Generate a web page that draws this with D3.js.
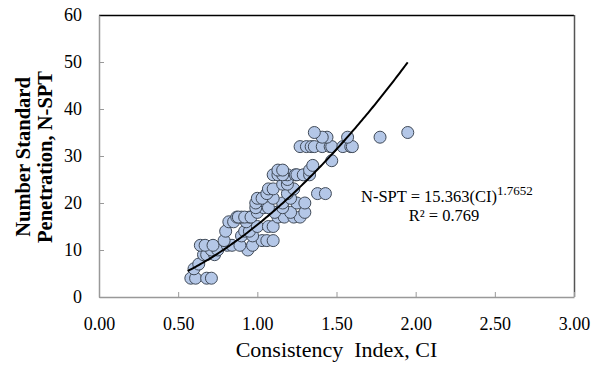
<!DOCTYPE html>
<html><head><meta charset="utf-8">
<script src="https://cdn.jsdelivr.net/npm/d3@7"></script>
<style>body{margin:0;background:#fff}svg{display:block;font-family:"Liberation Serif","Times New Roman",serif}</style>
</head><body><svg id="c" width="600" height="365"></svg>
<script>
const ciValues = [0.58,0.61,0.68,0.71, 0.60,0.63, 0.66,0.68,0.73, 0.71,0.75,0.94,
 0.64,0.67,0.72,0.81,0.84,0.97,0.89, 0.79,1.03,1.06,1.10, 0.90,0.97, 0.80,0.92,0.95,
 1.00,1.07,1.10, 0.82,0.93,0.85, 0.87,0.90,0.95,0.88,0.92,0.96,1.13,1.17,1.23,1.27,
 1.00,1.21,1.11,1.30, 1.04,1.16,0.99,1.07, 0.99,1.16,1.25,1.30, 1.00,1.03,1.21,1.10,
 1.06,1.19,1.38,1.43, 1.07,1.10,1.23, 1.16,1.19, 1.19,
 1.10,1.13,1.19,1.24,1.25,1.29,1.16,1.33, 1.13,1.16,1.33, 1.35, 1.47,
 1.27,1.31,1.34,1.36,1.41,1.46,1.47,1.54,1.59,1.60, 1.44,1.41,1.57,1.775, 1.36,1.95];
const nValues = [4,4,4,4, 6,7, 9,9,9, 10,10,10,
 11,11,11,11,11,11,11, 12,12,12,12, 13,13, 14,14,14,
 15,15,15, 16,16,16, 17,17,17,17,17,17,17,17,17,17,
 18,18,18,18, 19,19,19,19, 20,20,20,20, 21,21,21,21,
 22,22,22,22, 23,23,23, 24,24, 25,
 26,26,26,26,26,26,26,26, 27,27,27, 28, 29,
 32,32,32,32,32,32,32,32,32,32, 34,34,34,34, 35,35];
const xTicks = [0,0.5,1,1.5,2,2.5,3];
const yTicks = [0,10,20,30,40,50,60];
const fitA = 15.363, fitB = 1.7652, fitRange = [0.56, 1.95];
const xTitle = "Consistency  Index, CI";
const yTitle = ["Number Standard", "Penetration, N-SPT"];

const svg = d3.select("#c");
const L=99, R=574, T=15, B=297;
const x = d3.scaleLinear().domain([0,3]).range([L,R]);
const y = d3.scaleLinear().domain([0,60]).range([B,T]);

// frame
svg.append("line").attr("x1",L).attr("x2",R).attr("y1",T+0.5).attr("y2",T+0.5).attr("stroke","#000").attr("stroke-width",1.5);
svg.append("line").attr("x1",R+0.5).attr("x2",R+0.5).attr("y1",T).attr("y2",B).attr("stroke","#555").attr("stroke-width",1.5);

const gx = svg.append("g").attr("transform",`translate(0,${B})`)
  .call(d3.axisBottom(x).tickValues(xTicks).tickFormat(d3.format(".2f")).tickSizeInner(-5).tickSizeOuter(0).tickPadding(20));
const gy = svg.append("g").attr("transform",`translate(${L},0)`)
  .call(d3.axisLeft(y).tickValues(yTicks).tickSizeInner(-5).tickSizeOuter(0).tickPadding(17));
[gx,gy].forEach(g=>{
  g.select(".domain").attr("stroke","#999").attr("stroke-width",1.5);
  g.selectAll(".tick line").attr("stroke","#999");
  g.selectAll(".tick text").attr("font-family","Liberation Serif").attr("font-size",18).attr("fill","#000");
});
gy.selectAll(".tick").filter(d=>d===60).select("line").remove();

// points
const pts = ciValues.map((c,i)=>({c, n:nValues[i]}));
svg.append("g").selectAll("circle").data(pts).join("circle")
  .attr("cx",d=>x(d.c)).attr("cy",d=>y(d.n)).attr("r",6)
  .attr("fill","#b4c7e7").attr("stroke","#404a58").attr("stroke-width",1);

// fit line
const fitPts = d3.range(fitRange[0], fitRange[1]+0.0001, 0.01).map(c=>[c, fitA*Math.pow(c,fitB)]);
svg.append("path").datum(fitPts)
  .attr("d", d3.line().x(d=>x(d[0])).y(d=>y(d[1])).curve(d3.curveMonotoneX))
  .attr("fill","none").attr("stroke","#000").attr("stroke-width",2);

// equation
const eq = svg.append("text").attr("x",361).attr("y",202).attr("font-size",16.5).attr("fill","#000");
eq.append("tspan").text("N-SPT = 15.363(CI)");
eq.append("tspan").attr("dy",-7).attr("font-size",13).text("1.7652");
svg.append("text").attr("x",444).attr("y",221).attr("text-anchor","middle").attr("font-size",16.5).text("R² = 0.769");

// axis titles
svg.append("text").attr("x",(L+R)/2).attr("y",357).attr("text-anchor","middle").attr("font-size",22).attr("xml:space","preserve").style("white-space","pre").text(xTitle);
yTitle.forEach((t,i)=>{
  svg.append("text").attr("transform",`translate(${30+i*22},157) rotate(-90)`)
    .attr("text-anchor","middle").attr("font-size",20.5).attr("font-weight","bold").text(t);
});
</script></body></html>
